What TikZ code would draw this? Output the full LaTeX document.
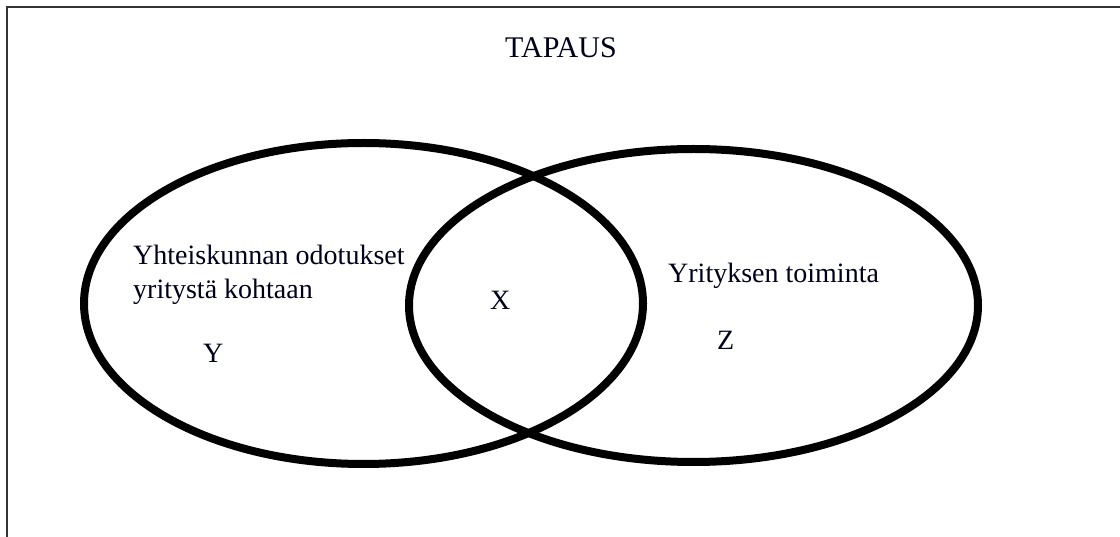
\documentclass[tikz,border=0pt]{standalone}
\usepackage{fontspec}
\setmainfont{Liberation Serif}
\begin{document}
\begin{tikzpicture}[x=1pt,y=-1pt,
  frameline/.style={draw=black!80,line width=2pt},
  setring/.style={draw=black,line width=8pt},
  lbl/.style={inner sep=0pt,anchor=base west,font=\fontsize{28}{34}\selectfont,text=black!90!blue}]
\useasboundingbox (0,0) rectangle (1120,537);
\coordinate (fb) at (7,540);
\coordinate (ft) at (7,7);
\coordinate (fr) at (1123,7);
\draw[frameline] (fb) -- (ft) -- (fr);
\draw[setring] (363.5,303.5) ellipse [x radius=279.5, y radius=160.5];
\draw[setring] (693.5,305.5) ellipse [x radius=284.5, y radius=156.5];
\node[lbl,font=\fontsize{30}{36}\selectfont] (tapaus) at (505,58) {TAPAUS};
\node[lbl] (yht1) at (133,265) {Yhteiskunnan odotukset};
\node[lbl] (yht2) at (133,299) {yritystä kohtaan};
\node[lbl] (y) at (203,363) {Y};
\node[lbl] (x) at (490,310) {X};
\node[lbl] (yri) at (668,283) {Yrityksen toiminta};
\node[lbl] (z) at (717,350) {Z};
\end{tikzpicture}
\end{document}
